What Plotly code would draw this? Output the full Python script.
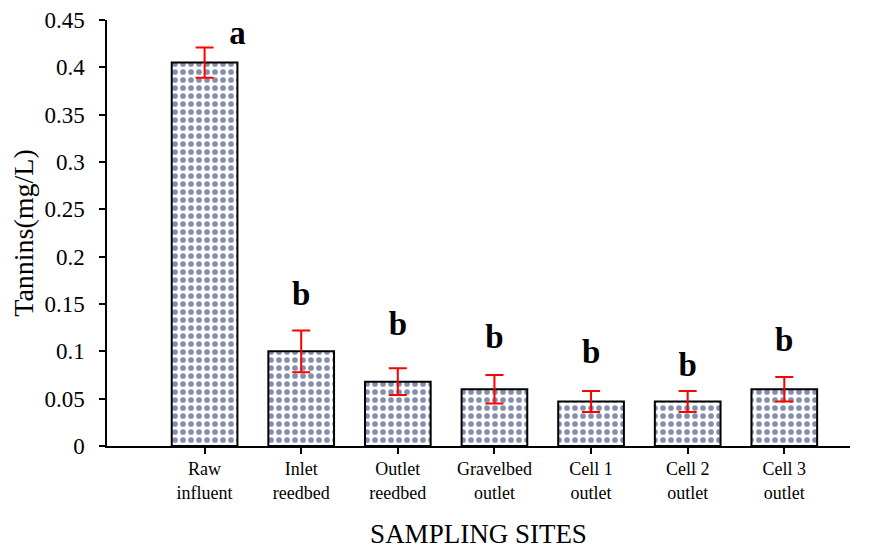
import plotly.graph_objects as go

categories = ["Raw<br>influent", "Inlet<br>reedbed", "Outlet<br>reedbed", "Gravelbed<br>outlet",
              "Cell 1<br>outlet", "Cell 2<br>outlet", "Cell 3<br>outlet"]
tannins = [0.405, 0.100, 0.068, 0.060, 0.047, 0.047, 0.060]
errors = [0.016, 0.022, 0.014, 0.015, 0.011, 0.011, 0.013]
letters = ["a", "b", "b", "b", "b", "b", "b"]
letter_y = [0.433, 0.158, 0.126, 0.112, 0.096, 0.083, 0.109]
y_ticks = [0, 0.05, 0.1, 0.15, 0.2, 0.25, 0.3, 0.35, 0.4, 0.45]
y_tick_text = ["0", "0.05", "0.1", "0.15", "0.2", "0.25", "0.3", "0.35", "0.4", "0.45"]

xpos = list(range(len(categories)))
letter_x = [0.34, 0, 0, 0, 0, 0, 0]

font = "Liberation Serif, Times New Roman, serif"

fig = go.Figure()
fig.add_trace(go.Bar(
    x=xpos, y=tannins, width=0.68,
    marker=dict(color="white", line=dict(color="black", width=2),
                pattern=dict(shape=".", fgcolor="#0a1f5c", bgcolor="white", size=8, solidity=0.4)),
    error_y=dict(type="data", array=errors, color="#ff0000", thickness=2, width=9),
    showlegend=False,
))
fig.add_trace(go.Scatter(
    x=[p + o for p, o in zip(xpos, letter_x)], y=letter_y, mode="text", text=letters,
    textfont=dict(family=font, size=33, color="black"),
    texttemplate="<b>%{text}</b>", showlegend=False,
))

fig.update_layout(
    width=864, height=541,
    margin=dict(l=99, r=22, t=12, b=103),
    paper_bgcolor="white", plot_bgcolor="white",
    font=dict(family=font, color="black"),
    xaxis=dict(
        range=[-1.01, 6.68], tickmode="array", tickvals=xpos, ticktext=categories,
        tickfont=dict(size=18), ticks="outside", ticklen=6, tickwidth=1.5, tickcolor="black",
        ticklabelstandoff=0, automargin=False,
        showline=True, linecolor="black", linewidth=1.5, showgrid=False, zeroline=False,
        title=dict(text="SAMPLING SITES", font=dict(size=27), standoff=40),
    ),
    yaxis=dict(
        range=[0, 0.45], tickmode="array", tickvals=y_ticks, ticktext=y_tick_text,
        tickfont=dict(size=23), ticks="outside", ticklen=6, tickwidth=1.5, tickcolor="black",
        ticklabelstandoff=10, automargin=False,
        showline=True, linecolor="black", linewidth=1.5, showgrid=False, zeroline=False,
        title=dict(text="Tannins(mg/L)", font=dict(size=28), standoff=6),
    ),
)

fig.write_html("out.html")
